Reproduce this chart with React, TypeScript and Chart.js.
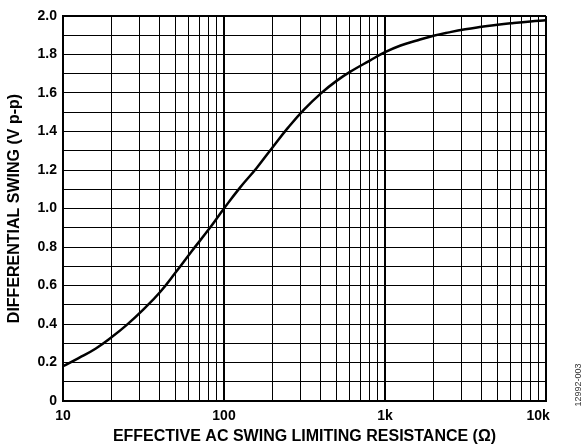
import React, { useEffect, useRef } from "react";
import { Chart, registerables } from "chart.js";

Chart.register(...registerables);

// Effective AC swing limiting resistance (ohms)
const resistance = [10, 12.5, 16, 20, 25, 31.5, 40, 50, 63, 80, 100, 125, 160, 200, 250, 315, 400, 500, 630, 800, 1000, 1250, 1600, 2000, 2500, 3150, 4000, 5000, 6300, 8000, 10000];
// Differential swing (V p-p)
const swing = [0.181, 0.223, 0.273, 0.331, 0.397, 0.475, 0.565, 0.667, 0.778, 0.889, 1.0, 1.106, 1.212, 1.317, 1.42, 1.515, 1.598, 1.663, 1.718, 1.767, 1.812, 1.847, 1.874, 1.897, 1.915, 1.931, 1.944, 1.955, 1.964, 1.972, 1.978];

const xGridValues = [10, 20, 30, 40, 50, 60, 70, 80, 90, 100, 200, 300, 400, 500, 600, 700, 800, 900, 1000, 2000, 3000, 4000, 5000, 6000, 7000, 8000, 9000, 10000];
const xTickLabels: Record<number, string> = { 10: "10", 100: "100", 1000: "1k", 10000: "10k" };
const yTickLabels = ["0", "0.2", "0.4", "0.6", "0.8", "1.0", "1.2", "1.4", "1.6", "1.8", "2.0"];

const FONT = "'Liberation Sans', Arial, Helvetica, sans-serif";

const idPlugin = {
  id: "figId",
  afterDraw(chart: any) {
    const ctx = chart.ctx;
    ctx.save();
    ctx.translate(579, 385);
    ctx.rotate(-Math.PI / 2);
    ctx.font = `9px ${FONT}`;
    ctx.fillStyle = "#333";
    ctx.textAlign = "center";
    ctx.textBaseline = "middle";
    ctx.fillText("12992-003", 0, 0);
    ctx.restore();
  },
};

export default function App() {
  const ref = useRef<HTMLCanvasElement>(null);
  useEffect(() => {
    if (!ref.current) return;
    const isDecade = (v: number) => Math.abs(Math.log10(v) - Math.round(Math.log10(v))) < 1e-9;
    const chart = new Chart(ref.current, {
      type: "line",
      data: {
        datasets: [
          {
            data: resistance.map((r, i) => ({ x: r, y: swing[i] })),
            borderColor: "#000",
            borderWidth: 2.5,
            pointRadius: 0,
            tension: 0.45,
            borderJoinStyle: "round",
            borderCapStyle: "round",
            fill: false,
          },
        ],
      },
      options: {
        responsive: false,
        animation: false,
        devicePixelRatio: 1,
        layout: { padding: { top: 16, right: 41, left: 0, bottom: 0 } },
        plugins: { legend: { display: false }, tooltip: { enabled: false } },
        scales: {
          x: {
            type: "logarithmic",
            min: 10,
            max: 10000,
            afterBuildTicks: (scale: any) => {
              scale.ticks = xGridValues.map((v) => ({ value: v, major: isDecade(v) }));
            },
            afterFit: (scale: any) => {
              scale.height = 45;
            },
            grid: {
              color: "#000",
              lineWidth: (ctx: any) => (ctx.tick && isDecade(ctx.tick.value) ? 2 : 1),
              drawTicks: false,
            },
            border: { display: true, color: "#000", width: 2 },
            ticks: {
              autoSkip: false,
              maxRotation: 0,
              padding: 7,
              color: "#000",
              font: { family: FONT, size: 14, weight: "bold" },
              callback: (v: any) => {
                const label = xTickLabels[Number(v)] ?? "";
                return Number(v) === 10000 ? label + "    " : label;
              },
            },
            title: {
              display: true,
              text: "EFFECTIVE AC SWING LIMITING RESISTANCE (Ω)",
              color: "#000",
              font: { family: FONT, size: 16, weight: "bold" },
              padding: { top: 0, bottom: 0 },
            },
          },
          y: {
            type: "linear",
            min: 0,
            max: 2,
            afterFit: (scale: any) => {
              scale.width = 63;
            },
            grid: {
              color: "#000",
              lineWidth: (ctx: any) => (ctx.tick && (ctx.tick.value === 0 || ctx.tick.value === 2) ? 2 : 1),
              drawTicks: false,
            },
            border: { display: true, color: "#000", width: 2 },
            ticks: {
              stepSize: 0.1,
              autoSkip: false,
              padding: 6,
              color: "#000",
              font: { family: FONT, size: 14, weight: "bold" },
              callback: (v: any) => {
                const k = Math.round(Number(v) * 10);
                return k % 2 === 0 ? yTickLabels[k / 2] : "";
              },
            },
            title: {
              display: true,
              text: "DIFFERENTIAL SWING (V p-p)",
              color: "#000",
              font: { family: FONT, size: 16, weight: "bold" },
              padding: { top: 5, bottom: 0 },
            },
          },
        },
      },
      plugins: [idPlugin],
    } as any);
    return () => chart.destroy();
  }, []);
  return (
    <div style={{ position: "absolute", left: 0, top: 0, width: 587, height: 446, background: "#fff" }}>
      <canvas ref={ref} width={587} height={446} style={{ display: "block" }} />
    </div>
  );
}
